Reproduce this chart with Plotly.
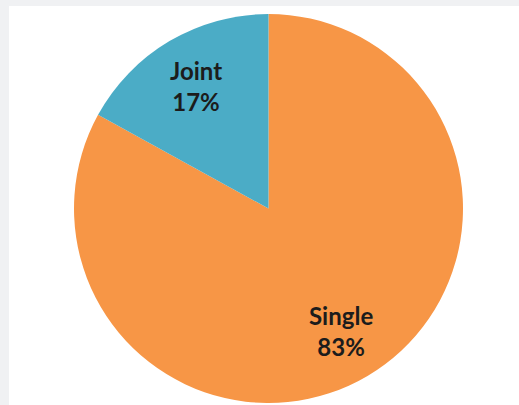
import math
import plotly.graph_objects as go

labels = ["Single", "Joint"]
values = [83, 17]
colors = ["#F79646", "#4BACC6"]

W, H = 519, 405
dom_x = [0.1426, 0.8921]
dom_y = [0.0049, 0.9654]

fig = go.Figure()
fig.add_trace(go.Pie(
    labels=labels,
    values=values,
    sort=False,
    direction="clockwise",
    rotation=0,
    marker=dict(colors=colors, line=dict(width=0)),
    textinfo="none",
    hoverinfo="label+percent",
    showlegend=False,
    domain=dict(x=dom_x, y=dom_y),
))

# Labels placed along each slice's mid-angle (Excel-style data labels)
cx = (dom_x[0] + dom_x[1]) / 2
cy = (dom_y[0] + dom_y[1]) / 2
R = min((dom_x[1] - dom_x[0]) * W, (dom_y[1] - dom_y[0]) * H) / 2
total = sum(values)
annotations = []
cum = 0
for lab, v in zip(labels, values):
    mid = (cum + v / 2) / total * 2 * math.pi  # clockwise from 12 o'clock
    cum += v
    r = 0.73 * R
    x = cx + r * math.sin(mid) / W
    y = cy + r * math.cos(mid) / H
    annotations.append(dict(
        x=x, y=y, xref="paper", yref="paper", showarrow=False,
        text=f"{lab}<br>{round(v / total * 100)}%",
        font=dict(family="Lato", size=24, color="#1c1c1c", weight="bold"),
        xanchor="center", yanchor="middle", align="center",
    ))

fig.update_layout(
    width=W, height=H,
    margin=dict(l=0, r=0, t=0, b=0),
    paper_bgcolor="#F0F1F3",
    annotations=annotations,
    shapes=[dict(type="rect", xref="paper", yref="paper",
                 x0=9 / W, x1=1, y0=0, y1=1 - 6 / H,
                 fillcolor="white", line=dict(width=0), layer="below")],
)

fig.write_html("out.html")
